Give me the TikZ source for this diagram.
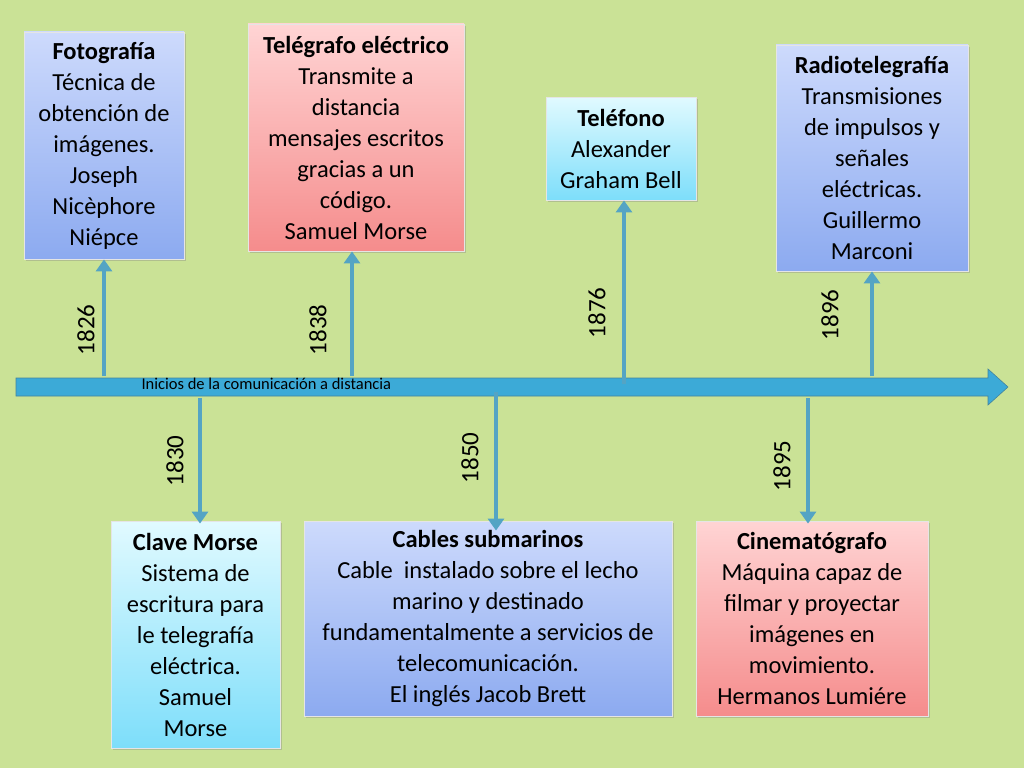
\documentclass[tikz,border=0pt]{standalone}
\usepackage{fontspec}
\setmainfont{Carlito}
\usetikzlibrary{arrows.meta,shadows}
\definecolor{bg}{RGB}{202,226,150}
\definecolor{arr}{RGB}{84,164,196}
\definecolor{line}{RGB}{60,170,215}
\tikzset{
  box/.style={draw=white!80!gray, line width=0.8pt, align=center, inner sep=2pt,
    font=\fontsize{24.5}{31}\selectfont, drop shadow={shadow xshift=2pt,shadow yshift=-2pt,opacity=0.35}},
  bluebox/.style={box, top color={rgb,255:red,205;green,218;blue,252}, bottom color={rgb,255:red,140;green,170;blue,240}},
  pinkbox/.style={box, top color={rgb,255:red,255;green,212;blue,212}, bottom color={rgb,255:red,245;green,140;blue,140}},
  cyanbox/.style={box, top color={rgb,255:red,225;green,250;blue,255}, bottom color={rgb,255:red,125;green,222;blue,250}},
  conn/.style={draw=arr, line width=4.5pt, -{Triangle[length=12pt,width=16pt]}},
  year/.style={rotate=90, font=\fontsize{25}{27}\selectfont},
}
\begin{document}
\begin{tikzpicture}[x=1pt,y=-1pt]
\fill[bg] (0,0) rectangle (1024,768);
\useasboundingbox (0,0) rectangle (1024,768);
% timeline
\fill[line, draw=arr!80!black, line width=0.6pt] (16,378) -- (988,378) -- (988,369) -- (1008,387) -- (988,405) -- (988,396) -- (16,396) -- cycle;
\node[font=\fontsize{16.5}{18}\selectfont, anchor=west] (ini) at (138,384) {Inicios de la comunicación a distancia};
% boxes
\node[bluebox, minimum width=160, minimum height=227] (foto) at (104,145.5)
 {\textbf{Fotografía}\\Técnica de\\obtención de\\imágenes.\\Joseph\\Nicèphore\\Niépce};
\node[pinkbox, minimum width=216, minimum height=227] (tele) at (356,137.5)
 {\textbf{Telégrafo eléctrico}\\Transmite a\\distancia\\mensajes escritos\\gracias a un\\código.\\Samuel Morse};
\node[cyanbox, minimum width=150, minimum height=103] (telf) at (621,148.5)
 {\textbf{Teléfono}\\Alexander\\Graham Bell};
\node[bluebox, minimum width=192, minimum height=226] (radio) at (872,158)
 {\textbf{Radiotelegrafía}\\Transmisiones\\de impulsos y\\señales\\eléctricas.\\Guillermo\\Marconi};
\node[cyanbox, minimum width=169, minimum height=227] (clave) at (195.5,634.5)
 {\textbf{Clave Morse}\\Sistema de\\escritura para\\le telegrafía\\eléctrica.\\Samuel\\Morse};
\node[bluebox, minimum width=368, minimum height=195] (cables) at (488,618.5)
 {\textbf{Cables submarinos}\\Cable\ \ instalado sobre el lecho\\marino y destinado\\fundamentalmente a servicios de\\telecomunicación.\\El inglés Jacob Brett};
\node[pinkbox, minimum width=232, minimum height=195] (cine) at (812,618.5)
 {\textbf{Cinematógrafo}\\Máquina capaz de\\filmar y proyectar\\imágenes en\\movimiento.\\Hermanos Lumiére};
% connector start points
\coordinate (a1) at (104,376); \coordinate (a2) at (352,376);
\coordinate (a3) at (624,384); \coordinate (a4) at (872,376);
\coordinate (b1) at (200,398); \coordinate (b2) at (496,392); \coordinate (b3) at (808,398);
\draw[conn] (a1) -- (foto.south -| a1);
\draw[conn] (a2) -- (tele.south -| a2);
\draw[conn] (a3) -- (telf.south -| a3);
\draw[conn] (a4) -- (radio.south -| a4);
\draw[conn] (b1) -- ([yshift=-3]clave.north -| b1);
\draw[conn] (b2) -- ([yshift=-10]cables.north -| b2);
\draw[conn] (b3) -- ([yshift=-3]cine.north -| b3);
% years
\node[year] (y1) at (86,330) {1826};
\node[year] (y2) at (318,330) {1838};
\node[year] (y3) at (597,313) {1876};
\node[year] (y4) at (830,315) {1896};
\node[year] (y5) at (175,461) {1830};
\node[year] (y6) at (470,458) {1850};
\node[year] (y7) at (782,466) {1895};
\end{tikzpicture}
\end{document}
